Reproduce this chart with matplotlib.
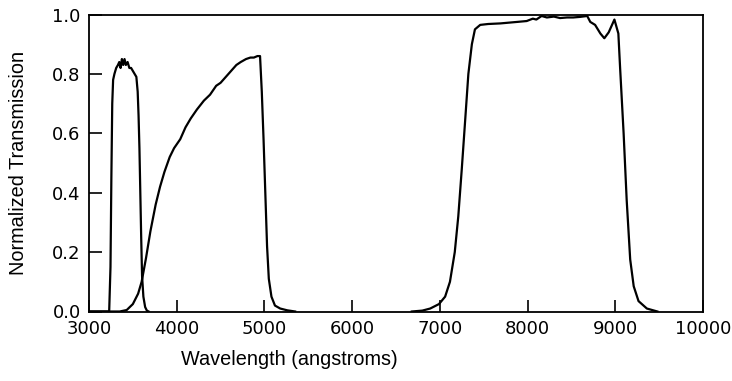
import numpy as np
import matplotlib.pyplot as plt

# Filter transmission curves (wavelength in angstroms)
u_wave = [3000, 3230, 3245, 3255, 3265, 3275, 3290, 3310, 3330, 3345, 3360, 3375,
          3390, 3405, 3420, 3440, 3460, 3480, 3500, 3520, 3540, 3555, 3565, 3575,
          3585, 3595, 3605, 3620, 3640, 3660, 3680]
u_trans = [0.0, 0.0, 0.15, 0.45, 0.70, 0.78, 0.80, 0.82, 0.83, 0.84, 0.82, 0.85,
           0.83, 0.85, 0.83, 0.84, 0.82, 0.82, 0.81, 0.80, 0.79, 0.74, 0.66, 0.55,
           0.40, 0.25, 0.12, 0.05, 0.015, 0.003, 0.0]

b_wave = [3000, 3350, 3430, 3500, 3560, 3600, 3650, 3700, 3760, 3810, 3860, 3920,
          3970, 4040, 4100, 4160, 4230, 4310, 4380, 4450, 4500, 4560, 4620, 4680,
          4730, 4790, 4840, 4880, 4920, 4950, 4970, 4990, 5010, 5030, 5050, 5080,
          5120, 5180, 5260, 5350]
b_trans = [0.0, 0.0, 0.005, 0.025, 0.06, 0.10, 0.18, 0.27, 0.36, 0.42, 0.47, 0.52,
           0.55, 0.58, 0.62, 0.65, 0.68, 0.71, 0.73, 0.76, 0.77, 0.79, 0.81, 0.83,
           0.84, 0.85, 0.855, 0.855, 0.86, 0.86, 0.74, 0.58, 0.40, 0.22, 0.11, 0.05,
           0.02, 0.01, 0.004, 0.0]

r_wave = [6680, 6800, 6890, 6990, 7060, 7115, 7170, 7210, 7250, 7290, 7325, 7365,
          7400, 7460, 7550, 7690, 7880, 7990, 8060, 8100, 8160, 8220, 8300, 8370,
          8450, 8520, 8600, 8680, 8715, 8770, 8830, 8875, 8925, 8990, 9035, 9055,
          9095, 9130, 9170, 9210, 9265, 9360, 9480]
r_trans = [0.0, 0.003, 0.01, 0.025, 0.05, 0.10, 0.20, 0.32, 0.48, 0.65, 0.80, 0.90,
           0.95, 0.965, 0.968, 0.97, 0.975, 0.978, 0.986, 0.983, 0.995, 0.99, 0.993,
           0.988, 0.99, 0.99, 0.992, 0.995, 0.975, 0.965, 0.936, 0.92, 0.94, 0.983,
           0.936, 0.82, 0.60, 0.375, 0.175, 0.085, 0.035, 0.01, 0.0]

x_ticks = [3000, 4000, 5000, 6000, 7000, 8000, 9000, 10000]
y_ticks = [0.0, 0.2, 0.4, 0.6, 0.8, 1.0]

fig = plt.figure(figsize=(7.32, 3.81), dpi=100)
ax = fig.add_axes([89 / 732, 1 - 311.5 / 381, 614 / 732, 297 / 381])

for w, t in [(u_wave, u_trans), (b_wave, b_trans), (r_wave, r_trans)]:
    ax.plot(w, t, color='black', lw=1.6)

ax.set_xlim(3000, 10000)
ax.set_ylim(0, 1.0)
ax.set_xticks(x_ticks)
ax.set_xticklabels([str(v) for v in x_ticks], family='DejaVu Sans')
ax.set_yticks(y_ticks)
ax.set_yticklabels(['%.1f' % v for v in y_ticks], family='DejaVu Sans')
ax.tick_params(direction='in', length=9, width=1.2, labelsize=13,
               top=False, right=False, pad=6)
for s in ax.spines.values():
    s.set_linewidth(1.3)

ax.set_xlabel('Wavelength (angstroms)', fontsize=14.3, family='Liberation Sans')
ax.xaxis.set_label_coords(0.327, -0.13)
ax.set_ylabel('Normalized Transmission', fontsize=14.3, family='Liberation Sans')
ax.yaxis.set_label_coords(-0.1, 0.5)

fig.savefig('out.png', dpi=100)
